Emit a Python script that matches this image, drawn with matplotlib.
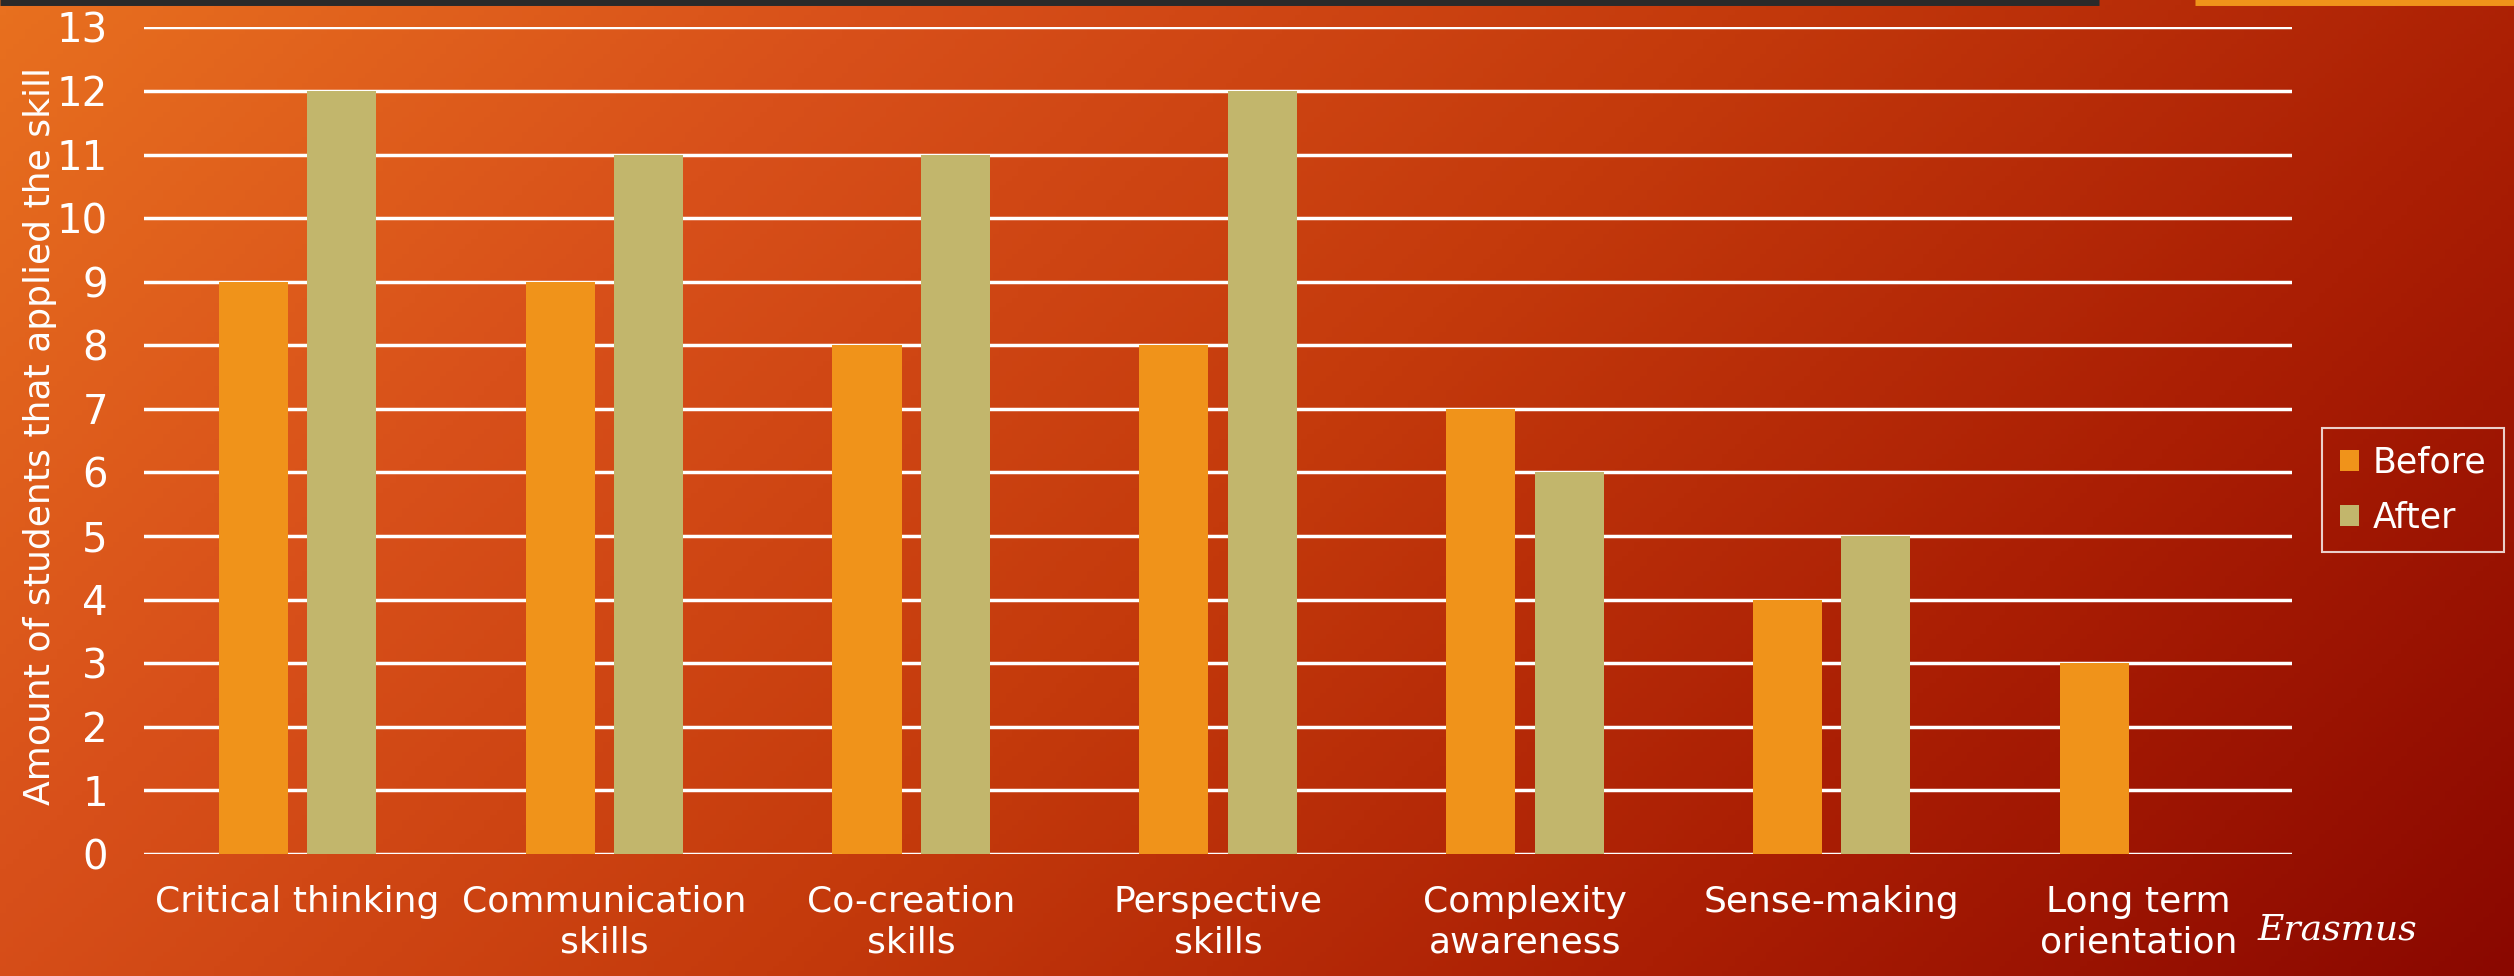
import matplotlib
matplotlib.use('Agg')
import matplotlib.pyplot as plt
import numpy as np
from matplotlib.colors import LinearSegmentedColormap

# data
categories = ['Critical thinking', 'Communication\nskills', 'Co-creation\nskills',
              'Perspective\nskills', 'Complexity\nawareness', 'Sense-making',
              'Long term\norientation']
before = [9, 9, 8, 8, 7, 4, 3]
after = [12, 11, 11, 12, 6, 5, 0]
series_names = ['Before', 'After']
yticks = list(range(0, 14))

c_before = '#F0931A'
c_after = '#C2B66C'
narrow = ['Liberation Sans Narrow', 'DejaVu Sans']

fig = plt.figure(figsize=(25.14, 9.76), dpi=100)

# background gradient (orange top-left -> dark red bottom-right)
bg = fig.add_axes([0, 0, 1, 1], zorder=-10)
bg.axis('off')
xx, yy = np.meshgrid(np.linspace(0, 1, 400), np.linspace(0, 1, 200))
t = 0.72 * xx + 0.28 * yy
cmap = LinearSegmentedColormap.from_list('bg', ['#E8701F', '#D8501A', '#C43A0C', '#AA1E04', '#8A0800'])
bg.imshow(t, cmap=cmap, aspect='auto', extent=[0, 1, 0, 1], origin='upper')
bg.set_xlim(0, 1)
bg.set_ylim(0, 1)
# thin header strips at top
bg.plot([0, 0.835], [0.998, 0.998], color='#2A2A2A', lw=5, solid_capstyle='butt')
bg.plot([0.873, 1], [0.998, 0.998], color='#F0931A', lw=5, solid_capstyle='butt')

ax = fig.add_axes([0.0573, 0.125, 0.8544, 0.847])
ax.patch.set_alpha(0)
x = np.arange(len(categories))
w = 0.225
off = 0.144
ax.bar(x - off, before, w, color=c_before, label=series_names[0], zorder=3)
ax.bar(x + off, after, w, color=c_after, label=series_names[1], zorder=3)

ax.set_xlim(-0.5, len(categories) - 0.5)
ax.set_ylim(0, 13)
ax.set_yticks(yticks)
ax.yaxis.grid(True, color='white', lw=2.5, zorder=1)
ax.set_axisbelow(True)
for s in ax.spines.values():
    s.set_visible(False)
ax.tick_params(axis='both', length=0, colors='white')
ax.tick_params(axis='y', pad=26)
ax.tick_params(axis='x', pad=22)
ax.set_xticks(x)
ax.set_xticklabels(categories, fontsize=26, color='white', family=narrow, linespacing=1.25)
for lab in ax.get_yticklabels():
    lab.set_fontsize(29)
    lab.set_family(narrow)
    lab.set_color('white')

fig.text(0.016, 0.553, 'Amount of students that applied the skill', rotation=90,
         ha='center', va='center', color='white', fontsize=26, family='DejaVu Sans')

leg = ax.legend(loc='center left', bbox_to_anchor=(1.006, 0.44),
                frameon=True, fancybox=False, handlelength=0.55, handleheight=0.55,
                handletextpad=0.4, borderpad=0.5, labelspacing=0.6,
                prop={'family': narrow, 'size': 25})
leg.get_frame().set_facecolor('none')
leg.get_frame().set_edgecolor('white')
leg.get_frame().set_linewidth(1.5)
for txt in leg.get_texts():
    txt.set_color('white')

# logo signature
fig.text(0.898, 0.03, 'Erasmus', color='white', fontsize=26, style='italic',
         family='DejaVu Serif', ha='left', va='bottom')

fig.savefig('out.png', dpi=100)
